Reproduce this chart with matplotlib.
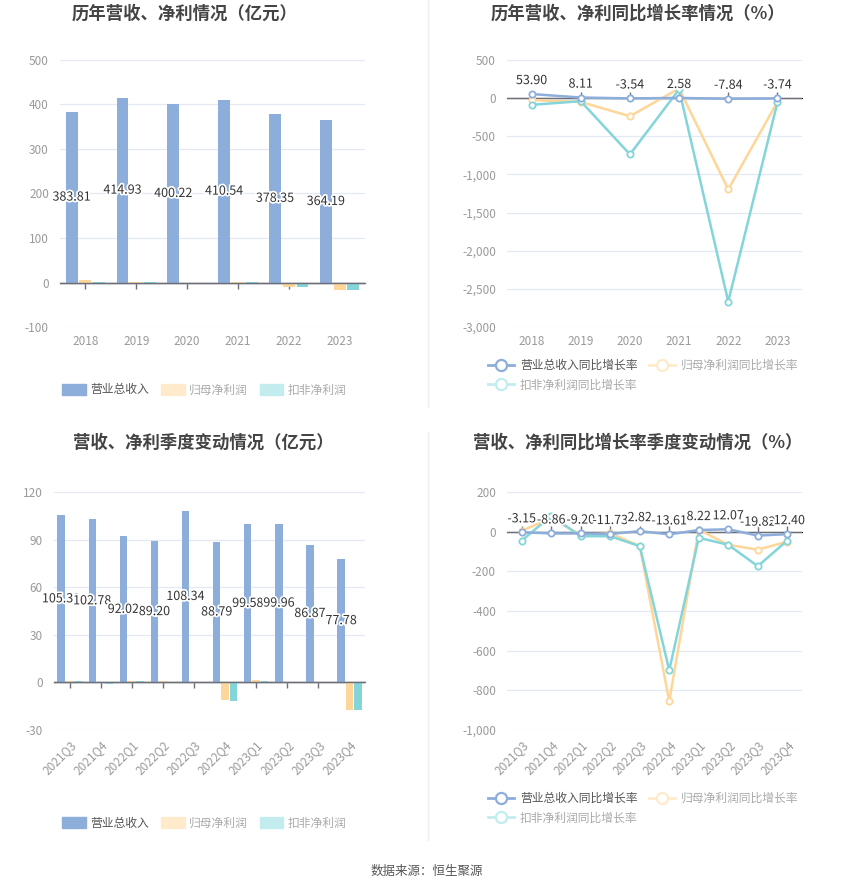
import matplotlib
matplotlib.use("Agg")
import matplotlib.pyplot as plt
import matplotlib.patches as mpatches
from matplotlib.lines import Line2D
from matplotlib.ticker import FuncFormatter
import matplotlib.patheffects as pe

plt.rcParams['font.family'] = ['Noto Sans CJK SC', 'DejaVu Sans']

# ---------------- data ----------------
years = ["2018", "2019", "2020", "2021", "2022", "2023"]
rev_year = [383.81, 414.93, 400.22, 410.54, 378.35, 364.19]
np_year = [5.0, 2.0, -3.0, 0.5, -10.5, -16.5]
dnp_year = [1.0, 0.5, -3.0, 0.3, -10.8, -17.0]

rev_yoy_year = [53.90, 8.11, -3.54, 2.58, -7.84, -3.74]
np_yoy_year = [-25, -50, -237, 127, -1197, -48]
dnp_yoy_year = [-88, -40, -737, 114, -2667, -57]

quarters = ["2021Q3", "2021Q4", "2022Q1", "2022Q2", "2022Q3", "2022Q4",
            "2023Q1", "2023Q2", "2023Q3", "2023Q4"]
rev_q = [105.31, 102.78, 92.02, 89.20, 108.34, 88.79, 99.58, 99.96, 86.87, 77.78]
np_q = [0.8, -0.5, 1.0, 0.6, 0.3, -11.3, 1.2, 0.2, 0.1, -17.6]
dnp_q = [0.8, -1.2, 1.0, 0.5, 0.2, -12.0, 0.8, 0.1, 0.05, -17.6]

rev_yoy_q = [-3.15, -8.86, -9.20, -11.73, 2.82, -13.61, 8.22, 12.07, -19.82, -12.40]
np_yoy_q = [5, 68, -17, -8, -73, -855, 10, -66, -91, -50]
dnp_yoy_q = [-45, 80, -23, -23, -73, -699, -31, -66, -174, -45]

bar_labels = ["营业总收入", "归母净利润", "扣非净利润"]
line_labels = ["营业总收入同比增长率", "归母净利润同比增长率", "扣非净利润同比增长率"]
titles = ["历年营收、净利情况（亿元）", "历年营收、净利同比增长率情况（%）",
          "营收、净利季度变动情况（亿元）", "营收、净利同比增长率季度变动情况（%）"]
source = "数据来源：恒生聚源"

# ---------------- style ----------------
C_BLUE = "#8DADDB"
C_ORANGE = "#FFD699"
C_TEAL = "#84D5D9"
C_ORANGE_L = "#FFEBCC"
C_TEAL_L = "#C2ECEE"
GRID = "#E3E8F2"
TICK = "#9A9A9A"
AXIS = "#6E7079"

W, H = 850, 891
fig = plt.figure(figsize=(W / 100, H / 100), dpi=100)
fig.patch.set_facecolor("white")


def px_axes(x0, y0, x1, y1):
    return fig.add_axes([x0 / W, 1 - y1 / H, (x1 - x0) / W, (y1 - y0) / H])


def fmt(v, pos):
    return f"{int(v):,}"


def style(ax, ylim, yticks, cats, rot):
    ax.set_ylim(*ylim)
    ax.set_yticks(yticks)
    ax.yaxis.set_major_formatter(FuncFormatter(fmt))
    ax.set_xlim(-0.5, len(cats) - 0.5)
    ax.set_xticks(range(len(cats)))
    if rot:
        ax.set_xticklabels(cats, rotation=45, ha="right", rotation_mode="anchor")
    else:
        ax.set_xticklabels(cats)
    for s in ax.spines.values():
        s.set_visible(False)
    ax.grid(axis="y", color=GRID, linewidth=0.9)
    ax.set_axisbelow(True)
    ax.tick_params(axis="both", length=0, colors=TICK, labelsize=8.5, pad=6)
    ax.tick_params(axis="y", pad=8)
    # zero axis line with ticks
    frac = (0 - ylim[0]) / (ylim[1] - ylim[0])
    sec = ax.secondary_xaxis(frac)
    sec.set_xticks(range(len(cats)))
    sec.set_xticklabels([])
    sec.tick_params(direction="out", length=4, color=AXIS, width=1)
    sec.spines["bottom"].set_color(AXIS)
    sec.spines["bottom"].set_linewidth(1)
    ax.axhline(0, color=AXIS, linewidth=1, zorder=4)


def bars(ax, cats, rev, np_, dnp, ylim, yticks, rot, fs):
    x = list(range(len(cats)))
    w = 0.235
    off = 0.27
    ax.bar([i - off for i in x], rev, width=w, color=C_BLUE, zorder=3)
    ax.bar(x, np_, width=w, color=C_ORANGE, zorder=3)
    ax.bar([i + off for i in x], dnp, width=w, color=C_TEAL, zorder=3)
    style(ax, ylim, yticks, cats, rot)
    for i, v in enumerate(rev):
        ax.text(i - off, v / 2, f"{v:.2f}", ha="center", va="center",
                fontsize=fs, color="#333333", zorder=6,
                path_effects=[pe.withStroke(linewidth=2.5, foreground="white")])


def lines(ax, cats, a, b, c, ylim, yticks, rot, fs, dy):
    x = list(range(len(cats)))
    kw = dict(marker="o", markersize=4.5, markerfacecolor="white",
              markeredgewidth=1.3, linewidth=1.8, zorder=5)
    ax.plot(x, b, color=C_ORANGE, **kw)
    ax.plot(x, c, color=C_TEAL, **kw)
    ax.plot(x, a, color=C_BLUE, **kw)
    style(ax, ylim, yticks, cats, rot)
    for i, v in enumerate(a):
        ax.annotate(f"{v:.2f}", (i, v), xytext=(0, dy), textcoords="offset points",
                    ha="center", va="bottom", fontsize=fs, color="#333333", zorder=6,
                    path_effects=[pe.withStroke(linewidth=2.5, foreground="white")])


ax1 = px_axes(60, 60, 365, 327)
bars(ax1, years, rev_year, np_year, dnp_year, (-100, 500),
     [-100, 0, 100, 200, 300, 400, 500], False, 9)

ax2 = px_axes(507, 60, 802, 327)
lines(ax2, years, rev_yoy_year, np_yoy_year, dnp_yoy_year, (-3000, 500),
      [-3000, -2500, -2000, -1500, -1000, -500, 0, 500], False, 9, 5)

ax3 = px_axes(54, 492, 365, 730)
bars(ax3, quarters, rev_q, np_q, dnp_q, (-30, 120),
     [-30, 0, 30, 60, 90, 120], True, 9)

ax4 = px_axes(507, 492, 802, 730)
lines(ax4, quarters, rev_yoy_q, np_yoy_q, dnp_yoy_q, (-1000, 200),
      [-1000, -800, -600, -400, -200, 0, 200], True, 9, 5)

# titles
for (xc, yc), t in zip([(185, 14), (638, 14), (203, 443), (638, 443)], titles):
    fig.text(xc / W, 1 - yc / H, t, ha="center", va="center", fontsize=12.5,
             fontweight="bold", color="#444444")

# divider lines
fig.add_artist(Line2D([428 / W, 428 / W], [1 - 0 / H, 1 - 407 / H], color="#EEEEEE", linewidth=1))
fig.add_artist(Line2D([428 / W, 428 / W], [1 - 432 / H, 1 - 840 / H], color="#EEEEEE", linewidth=1))


# legends
def bar_legend(x, y):
    handles = [mpatches.FancyBboxPatch((0, 0), 1, 1, color=C_BLUE),
               mpatches.Patch(color=C_ORANGE_L),
               mpatches.Patch(color=C_TEAL_L)]
    handles = [mpatches.Patch(color=C_BLUE), mpatches.Patch(color=C_ORANGE_L),
               mpatches.Patch(color=C_TEAL_L)]
    leg = fig.legend(handles, bar_labels, loc="center left",
                     bbox_to_anchor=(x / W, 1 - y / H), ncol=3, frameon=False,
                     fontsize=8.5, handlelength=2.0, handleheight=1.1,
                     handletextpad=0.4, columnspacing=1.0, borderaxespad=0, borderpad=0)
    for i, t in enumerate(leg.get_texts()):
        t.set_color("#555555" if i == 0 else "#AAAAAA")


def line_legend(x, y):
    kw = dict(marker="o", markersize=8, markerfacecolor="white", markeredgewidth=1.6,
              linewidth=2)
    h1 = Line2D([], [], color=C_BLUE, **kw)
    h2 = Line2D([], [], color=C_ORANGE_L, **kw)
    h3 = Line2D([], [], color=C_TEAL_L, **kw)
    leg = fig.legend([h1, h3, h2], [line_labels[0], line_labels[2], line_labels[1]],
                     loc="upper left", bbox_to_anchor=(x / W, 1 - y / H), ncol=2,
                     frameon=False, fontsize=8.5, handlelength=2.2,
                     handletextpad=0.5, columnspacing=1.0, labelspacing=0.55,
                     borderaxespad=0, borderpad=0)
    for t in leg.get_texts():
        t.set_color("#555555" if t.get_text() == line_labels[0] else "#AAAAAA")


bar_legend(62, 390)
bar_legend(62, 823)
line_legend(488, 359)
line_legend(488, 792)

fig.text(427 / W, 1 - 871 / H, source, ha="center", va="center", fontsize=9, color="#555555")

fig.savefig("out.png", dpi=100, facecolor="white")
